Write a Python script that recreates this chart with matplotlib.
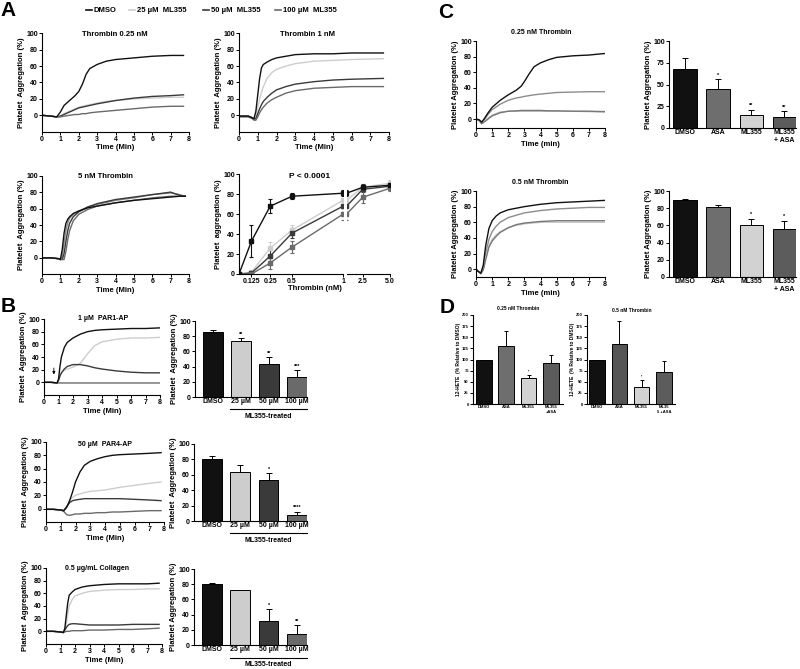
import numpy as np
import matplotlib.pyplot as plt
from matplotlib.lines import Line2D

plt.rcParams['font.family'] = ['Liberation Sans', 'DejaVu Sans']
plt.rcParams['font.weight'] = 'bold'
plt.rcParams['axes.labelweight'] = 'bold'
plt.rcParams['axes.linewidth'] = 0.8

# ---- colours per condition ----
c_dmso, c_25, c_50, c_100 = '#111111', '#cdcdcd', '#3a3a3a', '#6a6a6a'
c_asa, c_ml, c_mlasa = '#6e6e6e', '#d2d2d2', '#5c5c5c'

legend_labels = ['DMSO', '25 µM  ML355', '50 µM  ML355', '100 µM  ML355']

# ---- A: Thrombin 0.25 nM traces ----
a1_t = [0, 0.5, 0.8, 1.0, 1.2, 1.5, 1.8, 2.0, 2.2, 2.4, 2.6, 3.0, 3.5, 4.0, 5.0, 6.0, 7.0, 7.7]
a1_dmso = [0, -1, -2, 4, 12, 18, 24, 29, 38, 50, 57, 62, 66, 68, 70, 72, 73, 73]
a1_25 = [0, -1, -2, -1, 2, 5, 8, 10, 11, 12, 13, 15, 17, 18, 20, 21, 22, 22]
a1_50 = [0, -1, -2, -1, 1, 4, 7, 9, 10, 11, 12, 14, 16, 18, 21, 23, 24, 25]
a1_100 = [0, -1, -2, -2, -1, 0, 1, 1, 2, 2, 3, 4, 5, 6, 8, 10, 11, 11]

# ---- A: Thrombin 1 nM ----
a2_t = [0, 0.5, 0.7, 0.8, 0.9, 1.0, 1.1, 1.2, 1.3, 1.5, 1.75, 2.0, 2.5, 3.0, 4.0, 5.0, 6.0, 7.7]
a2_dmso = [-1, -1, -3, -4, 5, 25, 45, 58, 62, 65, 68, 70, 72, 74, 75, 75, 76, 76]
a2_25 = [-1, -1, -3, -5, -2, 10, 20, 28, 35, 45, 52, 56, 60, 63, 66, 67, 68, 69]
a2_50 = [-1, -1, -3, -5, -4, 2, 8, 13, 17, 22, 27, 31, 35, 38, 41, 43, 44, 45]
a2_100 = [-2, -2, -4, -6, -6, -2, 3, 7, 10, 15, 19, 22, 27, 30, 33, 34, 35, 35]

# ---- A: 5 nM Thrombin ----
a3_t = [0, 0.5, 0.9, 1.0, 1.1, 1.2, 1.3, 1.4, 1.5, 1.7, 2.0, 2.5, 3, 4, 5, 6, 7, 7.5, 7.8]
a3_dmso = [0, 0, -1, -2, 10, 30, 42, 47, 50, 54, 57, 61, 63, 67, 70, 72, 74, 75, 75]
a3_25 = [0, 0, -1, -2, 2, 18, 33, 43, 48, 53, 57, 62, 65, 70, 73, 77, 79, 77, 75]
a3_50 = [0, 0, -1, -2, -2, 5, 20, 33, 42, 50, 56, 62, 66, 71, 74, 77, 80, 76, 75]
a3_100 = [0, 0, -1, -2, -2, -2, 8, 22, 33, 45, 53, 59, 63, 67, 70, 73, 75, 75, 75]

# ---- A: dose response ----
dose = [0, 0.125, 0.25, 0.5, 1, 2.5, 5]
dr_dmso = [0, 33, 68, 78, 81, 87, 89]
dr_dmso_err = [0, 16, 7, 3, 3, 3, 2]
dr_25 = [0, 2, 26, 44, 74, 87, 91]
dr_25_err = [0, 1, 6, 5, 5, 2, 3]
dr_50 = [0, 1, 18, 41, 68, 85, 88]
dr_50_err = [0, 1, 6, 5, 6, 3, 3]
dr_100 = [0, 0, 11, 27, 60, 77, 86]
dr_100_err = [0, 1, 6, 6, 6, 6, 3]

# ---- B: PAR1-AP ----
b1_t = [0, 0.5, 0.9, 1.0, 1.1, 1.2, 1.4, 1.6, 2.0, 2.5, 3.0, 3.5, 4.0, 5.0, 6.0, 7.0, 8.0]
b1_dmso = [0, 0, -1, 5, 25, 40, 55, 63, 70, 76, 80, 82, 83, 84, 85, 85, 86]
b1_25 = [0, 0, -1, 3, 10, 15, 19, 21, 24, 30, 45, 58, 64, 68, 70, 70, 71]
b1_50 = [0, 0, -1, 3, 10, 15, 21, 25, 28, 28, 26, 23, 21, 18, 16, 15, 15]
b1_100 = [0, 0, -1, -1, -1, -1, -1, -1, -1, -1, -1, -1, -1, -1, -1, -1, -1]

# ---- B: PAR4-AP ----
b2_t = [0, 0.5, 1.0, 1.2, 1.4, 1.6, 1.8, 2.0, 2.3, 2.6, 3.0, 3.5, 4.0, 4.5, 5.0, 6.0, 7.0, 7.8]
b2_dmso = [-1, -1, -2, -3, 2, 12, 25, 40, 55, 65, 71, 75, 78, 80, 81, 82, 83, 84]
b2_25 = [-1, -1, -2, -4, 2, 12, 17, 20, 22, 24, 26, 27, 28, 30, 32, 35, 38, 40]
b2_50 = [-1, -1, -2, -3, 3, 9, 12, 13, 14, 15, 15, 15, 15, 15, 15, 14, 13, 12]
b2_100 = [-1, -1, -2, -4, -9, -10, -9, -8, -8, -7, -7, -6, -6, -5, -5, -4, -3, -3]

# ---- B: collagen ----
b3_t = [0, 0.5, 1.0, 1.2, 1.3, 1.4, 1.5, 1.6, 1.8, 2.0, 2.5, 3.0, 4.0, 5.0, 6.0, 7.0, 7.8]
b3_dmso = [0, 0, -1, -2, 5, 25, 45, 57, 62, 66, 70, 72, 74, 75, 75, 75, 76]
b3_25 = [0, 0, -1, -2, 2, 12, 28, 40, 50, 56, 60, 63, 65, 66, 66, 67, 67]
b3_50 = [0, 0, -1, -2, 2, 6, 9, 11, 12, 12, 11, 10, 10, 10, 11, 11, 11]
b3_100 = [0, 0, -1, -1, -1, 0, 0, 0, 1, 1, 1, 2, 2, 3, 3, 4, 5]

# ---- B: bars ----
b_cats = ['DMSO', '25 µM', '50 µM', '100 µM']
b1_bar = [86, 74, 44, 26]
b1_err = [2, 3, 8, 9]
b1_stars = ['', '**', '**', '***']
b2_bar = [80, 64, 53, 8]
b2_err = [4, 9, 9, 4]
b2_stars = ['', '', '*', '****']
b3_bar = [80, 72, 32, 15]
b3_err = [2, 1, 15, 11]
b3_stars = ['', '', '*', '**']

# ---- C: traces ----
c1_t = [0, 0.2, 0.35, 0.5, 0.75, 1.0, 1.5, 2.0, 2.5, 2.8, 3.0, 3.3, 3.6, 4.0, 4.5, 5.0, 6.0, 7.0, 8.0]
c1_dmso = [0, -1, -4, 0, 8, 15, 24, 31, 37, 42, 48, 58, 67, 72, 76, 79, 81, 82, 84]
c1_asa = [0, -2, -5, -1, 6, 12, 19, 24, 27, 28, 29, 30, 31, 32, 33, 34, 34.5, 35, 35]
c1_ml = [0, -2, -6, -3, 1, 5, 9, 10, 10, 10, 10, 10, 10, 10, 10, 10, 10, 9.5, 9]
c1_mlasa = [0, -2, -6, -4, 0, 4, 8, 10, 10.5, 11, 11, 11, 11, 11, 10.5, 10.5, 10, 10, 9.5]

c2_t = [0, 0.15, 0.3, 0.45, 0.6, 0.8, 1.0, 1.25, 1.5, 2.0, 2.5, 3.0, 4.0, 5.0, 6.0, 7.0, 8.0]
c2_dmso = [0, -3, -5, 5, 30, 52, 62, 68, 72, 76, 78, 80, 83, 85, 86, 87, 88]
c2_asa = [0, -3, -5, 2, 20, 38, 48, 55, 60, 66, 69, 72, 75, 77, 78, 79, 79]
c2_ml = [0, -3, -5, 0, 15, 30, 38, 44, 48, 53, 56, 58, 60, 60, 60, 60, 60]
c2_mlasa = [0, -3, -6, -1, 12, 28, 36, 42, 47, 53, 57, 59, 61, 62, 62, 62, 62]

c_cats = ['DMSO', 'ASA', 'ML355', 'ML355\n+ ASA']
c1_bar = [68, 45, 15, 13]
c1_err = [12, 11, 6, 6]
c1_stars = ['', '*', '**', '**']
c2_bar = [89, 81, 60, 56]
c2_err = [2, 3, 8, 9]
c2_stars = ['', '', '*', '*']

# ---- D: 12-HETE ----
d1_cats = ['DMSO', 'ASA', 'ML355', 'ML355\n+ASA']
d2_cats = ['DMSO', 'ASA', 'ML355', 'ML35\n5 +ASA']
d1_bar = [100, 131, 58, 93]
d1_err = [0, 34, 7, 18]
d1_stars = ['', '', '*', '']
d2_bar = [100, 134, 39, 71]
d2_err = [0, 52, 15, 26]
d2_stars = ['', '', '*', '']

W, H = 800, 669
fig = plt.figure(figsize=(8, 6.69), dpi=100)


def box(l, t, r, b):
    return fig.add_axes([l / W, 1 - b / H, (r - l) / W, (b - t) / H])


def ftext(x, y, s, size=5, **kw):
    fig.text(x / W, 1 - y / H, s, fontsize=size, fontweight='bold',
             ha=kw.pop('ha', 'center'), va=kw.pop('va', 'center'), **kw)


def hline(x0, x1, y, lw=0.8, color='black'):
    fig.add_artist(Line2D([x0 / W, x1 / W], [1 - y / H, 1 - y / H], color=color, lw=lw))


def style(ax, fs=5):
    ax.spines['top'].set_visible(False)
    ax.spines['right'].set_visible(False)
    ax.tick_params(labelsize=fs, length=2, width=0.7, pad=1)


def traces(px, ymin, t, ys, cols, xlabel='Time (Min)', ylabel='Platelet  Aggregation (%)'):
    ax = box(*px)
    for y, c in zip(ys, cols):
        ax.plot(t, y, color=c, lw=1.0)
    ax.set_xlim(0, 8)
    ax.set_ylim(ymin, 100)
    ax.set_xticks(range(9))
    ax.set_yticks(range(0, 101, 20))
    style(ax)
    ax.set_xlabel(xlabel, fontsize=5.5, labelpad=1)
    ax.set_ylabel(ylabel, fontsize=5.5, labelpad=1)
    return ax


def bars(px, cats, vals, errs, cols, stars, ylim, yticks, fs=5, lab_fs=5,
         ylabel='Platelet  Aggregation (%)', xl=(-0.64, 3.36)):
    ax = box(*px)
    x = np.arange(len(vals))
    ax.bar(x, vals, width=0.7, color=cols, edgecolor='black', lw=0.7, zorder=2)
    ax.errorbar(x, vals, yerr=[np.zeros(len(errs)), errs], fmt='none', ecolor='black',
                elinewidth=0.7, capsize=2 if fs >= 4 else 1.5, capthick=0.7, zorder=1)
    for xi, v, e, s in zip(x, vals, errs, stars):
        if s:
            ax.text(xi, v + e + (ylim[1] - ylim[0]) * 0.02, s, ha='center', va='bottom',
                    fontsize=fs * 0.8, fontweight='bold')
    ax.set_xlim(*xl)
    ax.set_ylim(*ylim)
    ax.set_yticks(yticks)
    ax.set_xticks(x)
    ax.set_xticklabels(cats, fontsize=lab_fs)
    style(ax, fs)
    ax.tick_params(axis='x', length=0)
    ax.set_ylabel(ylabel, fontsize=lab_fs + 0.5, labelpad=1)
    return ax


tc4 = [c_dmso, c_25, c_50, c_100]

# panel letters
ftext(8, 11, 'A', 15, ha='center')
ftext(8, 306, 'B', 15)
ftext(446, 13, 'C', 15)
ftext(447, 307, 'D', 15)

# legend
for (x0, txt), c in zip([(86, legend_labels[0]), (129, legend_labels[1]),
                         (203, legend_labels[2]), (275, legend_labels[3])], tc4):
    hline(x0, x0 + 6, 10, lw=1.2, color=c)
    ftext(x0 + 8, 10, txt, 5.5, ha='left')

# A panels
traces((42, 33.3, 189, 131.7), -20, a1_t, [a1_25, a1_50, a1_100, a1_dmso],
       [c_25, c_50, c_100, c_dmso])
ftext(115, 34, 'Thrombin 0.25 nM', 5.5)
traces((239, 33.3, 389, 131.7), -20, a2_t, [a2_25, a2_50, a2_100, a2_dmso],
       [c_25, c_50, c_100, c_dmso])
ftext(308, 34, 'Thrombin 1 nM', 5.5)
traces((42, 175.7, 189, 274.3), -20, a3_t, [a3_25, a3_50, a3_100, a3_dmso],
       ['#8a8a8a', c_50, c_100, c_dmso])
ftext(105, 177, '5 nM Thrombin', 5.5)

# A dose response with broken axis; left part uses a piecewise scale like the original
knots_x = [0, 0.125, 0.25, 0.5, 1]
knots_u = [0, 0.12, 0.30, 0.51, 1]


def fwd(x):
    return np.interp(x, knots_x, knots_u, left=-1, right=2)


def inv(u):
    return np.interp(u, knots_u, knots_x, left=-1, right=2)


ax_l = box(239, 174.3, 343, 274)
ax_r = box(347, 174.3, 390, 274)
ax_l.set_xscale('function', functions=(fwd, inv))
for ax in (ax_l, ax_r):
    for y, e, c in [(dr_25, dr_25_err, c_25), (dr_50, dr_50_err, c_50),
                    (dr_100, dr_100_err, c_100), (dr_dmso, dr_dmso_err, c_dmso)]:
        ax.errorbar(dose, y, yerr=e, color=c, lw=1.0, marker='s', ms=2.5,
                    elinewidth=0.8, capsize=1.5, capthick=0.8)
    ax.set_ylim(0, 100)
    style(ax)
ax_l.set_xlim(0, 1)
ax_l.set_xticks([0.125, 0.25, 0.5, 1])
ax_l.set_xticklabels(['0.125', '0.25', '0.5', '1'])
ax_l.xaxis.set_minor_locator(plt.NullLocator())
ax_l.set_yticks(range(0, 101, 20))
ax_l.set_ylabel('Platelet  aggregation (%)', fontsize=5.5, labelpad=1)
ax_r.set_xlim(1.05, 5)
ax_r.set_xticks([2.5, 5])
ax_r.set_yticks([])
ax_r.spines['left'].set_visible(False)
ftext(315, 288, 'Thrombin (nM)', 5.5)
ftext(310, 177, 'P < 0.0001', 6)

# B panels
ax = traces((44, 319, 160, 395), -20, b1_t, [b1_25, b1_50, b1_100, b1_dmso],
            [c_25, c_50, c_100, c_dmso])
ax.annotate('', xy=(0.68, 8), xytext=(0.68, 27),
            arrowprops=dict(arrowstyle='-|>', color='black', lw=0.6, mutation_scale=4))
ftext(103, 319, '1 µM  PAR1-AP', 5)
traces((46, 442, 164, 522), -20, b2_t, [b2_25, b2_50, b2_100, b2_dmso],
       [c_25, c_50, c_100, c_dmso])
ftext(105, 445, '50 µM  PAR4-AP', 5)
traces((46, 568, 162, 644), -20, b3_t, [b3_25, b3_50, b3_100, b3_dmso],
       [c_25, c_50, c_100, c_dmso])
ftext(97, 569, '0.5 µg/mL Collagen', 5)

bars((195, 321, 307, 397), b_cats, b1_bar, b1_err, tc4, b1_stars, (0, 100), range(0, 101, 20))
hline(230, 307, 409)
ftext(268, 417, 'ML355-treated', 5)
bars((194, 444, 307, 521), b_cats, b2_bar, b2_err, tc4, b2_stars, (0, 100), range(0, 101, 20))
hline(230, 307, 533)
ftext(268, 540, 'ML355-treated', 5)
bars((194, 569, 307, 645), b_cats, b3_bar, b3_err, tc4, b3_stars, (0, 100), range(0, 101, 20),
     ylabel='Platelet Aggregation (%)')
hline(230, 307, 658)
ftext(268, 664, 'ML355-treated', 5)

# C panels
traces((476, 41, 605, 128), -11.5, c1_t, [c1_asa, c1_ml, c1_mlasa, c1_dmso],
       ['#8c8c8c', '#bdbdbd', '#777777', c_dmso], xlabel='Time (min)',
       ylabel='Platelet Aggregation (%)')
ftext(541, 33, '0.25 nM Thrombin', 5)
traces((476, 191, 605, 277), -10, c2_t, [c2_asa, c2_ml, c2_mlasa, c2_dmso],
       ['#8c8c8c', '#c8c8c8', '#777777', c_dmso], xlabel='Time (min)',
       ylabel='Platelet Aggregation (%)')
ftext(540, 182, '0.5 nM Thrombin', 5)

ccols = [c_dmso, c_asa, c_ml, c_mlasa]
bars((669, 41, 796, 128), c_cats, c1_bar, c1_err, ccols, c1_stars, (0, 100),
     [0, 25, 50, 75, 100], ylabel='Platelet Aggregation (%)', xl=(-0.485, 3.36))
bars((669, 191, 796, 277), c_cats, c2_bar, c2_err, ccols, c2_stars, (0, 100),
     range(0, 101, 20), ylabel='Platelet Aggregation (%)', xl=(-0.485, 3.36))

# D panels
bars((473, 315, 563, 404), d1_cats, d1_bar, d1_err, ccols, d1_stars, (0, 200),
     range(0, 201, 25), fs=3, lab_fs=3, ylabel='12-HETE  (% Relative to DMSO)',
     xl=(-0.49, 3.54))
ftext(518, 309, '0.25 nM Thrombin', 3.5)
bars((587, 315, 675, 404), d2_cats, d2_bar, d2_err, [c_dmso, '#555555', c_ml, c_mlasa],
     d2_stars, (0, 200), range(0, 201, 25), fs=3, lab_fs=3,
     ylabel='12-HETE  (% Relative to DMSO)', xl=(-0.45, 3.5))
ftext(632, 311, '0.5 nM Thrombin', 3.5)

fig.savefig('out.png', dpi=100)
